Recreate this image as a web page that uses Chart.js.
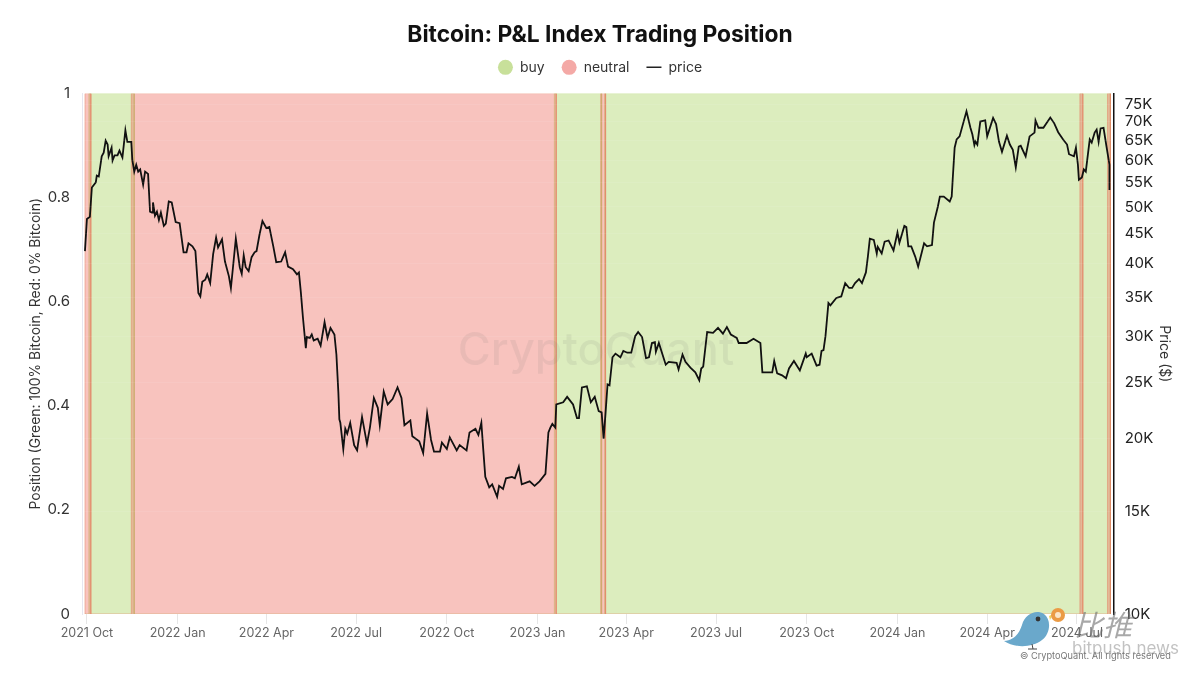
<!DOCTYPE html>
<html>
<head>
<meta charset="utf-8">
<title>Bitcoin: P&amp;L Index Trading Position</title>
<script src="https://cdn.jsdelivr.net/npm/chart.js@4/dist/chart.umd.min.js"></script>
<style>
    html, body { margin: 0; padding: 0; background: #fff; }
    #wrap { position: relative; width: 1200px; height: 675px; overflow: hidden; }
    #chart { display: block; }
    .mark { position: absolute; white-space: nowrap; pointer-events: none; font-family: Inter, sans-serif; }
    #bird { position: absolute; left: 0; top: 0; pointer-events: none; }
</style>
</head>
<body>
<div id="wrap">
    <canvas id="chart" width="1200" height="675"></canvas>
    <svg id="bird" width="1200" height="675">
        <path d="M1004 641 C1014 640 1019 634 1022 625 C1025 614 1036 609 1044 614 C1052 620 1050 634 1042 640 C1032 648 1014 648 1004 641 Z" fill="#6aa8cb"/>
        <circle cx="1038" cy="619" r="2.4" fill="#333"/>
        <path d="M1049 616 L1053 614 L1050 620 Z" fill="#f1d35c"/>
        <circle cx="1058" cy="615" r="7" fill="#eb9b45"/>
        <circle cx="1058" cy="615" r="3" fill="#fbe6c8"/>
        <path d="M1032 644 L1033 649 M1028 649 L1037 649" stroke="#444" stroke-width="1" fill="none"/>
    </svg>
    <div class="mark" style="left:1020px; top:650px; font-size:9.2px; color:#777;">© CryptoQuant. All rights reserved</div>
    <div class="mark" style="left:1074px; top:602px; font-size:29px; font-style:italic; font-family:'Noto Sans CJK SC'; color:rgba(110,110,110,0.6);">比推</div>
    <div class="mark" style="left:1072px; top:638px; font-size:17px; color:rgba(120,120,120,0.45);">bitpush.news</div>
</div>
<script>
'use strict';

// days counted from 2021-10-01
const tickDays   = [0, 92, 182, 273, 365, 457, 547, 638, 730, 822, 913, 1004];
const tickLabels = ['2021 Oct', '2022 Jan', '2022 Apr', '2022 Jul', '2022 Oct', '2023 Jan',
                    '2023 Apr', '2023 Jul', '2023 Oct', '2024 Jan', '2024 Apr', '2024 Jul'];

const positionTicks = [0, 0.2, 0.4, 0.6, 0.8, 1];
const priceTicks    = [10, 15, 20, 25, 30, 35, 40, 45, 50, 55, 60, 65, 70, 75];

const buyDays   = [-2, 2, 2, 48, 48, 474, 474, 522, 522, 525, 525, 1038, 1038];
const buyValues = [0, 0, 1, 1, 0, 0, 1, 1, 0, 0, 1, 1, 0];

const neutralDays   = [-2, -2, 4, 4, 45, 45, 476, 476, 521, 521, 526, 526, 1007, 1007, 1010, 1010, 1035, 1035, 1038, 1038];
const neutralValues = [0, 1, 1, 0, 0, 1, 1, 0, 0, 1, 1, 0, 0, 1, 1, 0, 0, 1, 1, 0];

const priceDays = [
    -2, 0, 3, 5, 9, 10, 12, 15, 17, 19, 21, 22, 25, 26, 28, 31, 33, 36, 39, 41,
    45, 46, 48, 50, 52, 54, 57, 59, 62, 64, 66, 67, 69, 71, 73, 75, 78, 80, 83, 86,
    90, 94, 98, 101, 103, 107, 110, 113, 115, 117, 120, 122, 125, 128, 131, 133, 137, 140, 144, 146,
    148, 151, 155, 157, 159, 161, 164, 167, 170, 172, 175, 178, 182, 185, 189, 192, 197, 201, 204, 209,
    213, 215, 217, 219, 222, 223, 226, 228, 230, 234, 237, 241, 244, 247, 251, 253, 255, 256, 257, 260,
    262, 264, 267, 271, 274, 279, 284, 287, 291, 295, 297, 301, 305, 310, 315, 319, 322, 328, 330, 337,
    341, 345, 349, 352, 358, 360, 365, 368, 375, 378, 385, 388, 394, 397, 400, 402, 404, 408, 411, 416,
    418, 422, 425, 431, 434, 438, 441, 449, 454, 459, 465, 468, 470, 472, 475, 476, 483, 487, 493, 497,
    499, 502, 507, 511, 515, 519, 522, 524, 526, 528, 530, 533, 536, 541, 544, 548, 552, 556, 559, 563,
    567, 570, 573, 576, 577, 580, 587, 590, 598, 600, 604, 607, 612, 617, 621, 623, 625, 629, 635, 640,
    645, 649, 653, 659, 661, 669, 676, 683, 685, 689, 695, 697, 700, 705, 709, 712, 717, 723, 729, 730,
    735, 740, 743, 745, 747, 749, 752, 754, 760, 765, 769, 773, 776, 779, 783, 786, 790, 792, 794, 798,
    801, 802, 806, 809, 813, 818, 822, 824, 829, 831, 833, 836, 840, 843, 847, 849, 852, 857, 859, 863,
    865, 869, 875, 877, 878, 880, 882, 885, 892, 896, 898, 900, 901, 903, 906, 911, 913, 919, 922, 925,
    928, 933, 936, 939, 942, 945, 947, 952, 956, 961, 962, 965, 970, 977, 981, 985, 990, 994, 996, 1001,
    1003, 1005, 1006, 1009, 1011, 1013, 1017, 1019, 1022, 1024, 1026, 1028, 1031, 1034, 1037, 1037
];
// price in thousand dollars
const priceValues = [
    42.0, 47.7, 48.1, 54.0, 55.1, 56.6, 56.4, 61.1, 62.0, 65.0, 64.0, 61.1, 63.2, 60.1, 61.3, 61.3, 62.5, 60.8, 67.7, 64.7,
    64.7, 60.3, 57.5, 59.1, 57.5, 58.0, 54.6, 57.5, 57.0, 49.1, 48.9, 50.9, 48.3, 49.1, 47.5, 48.9, 46.4, 46.8, 51.1, 50.9,
    47.1, 46.9, 41.8, 41.8, 43.3, 42.8, 42.0, 35.6, 35.1, 37.2, 37.5, 38.3, 37.0, 41.5, 44.3, 42.6, 44.0, 40.3, 38.0, 36.3,
    39.2, 44.1, 39.4, 38.4, 41.3, 39.4, 38.8, 41.0, 41.8, 42.0, 44.8, 47.3, 46.0, 46.2, 42.8, 40.2, 40.3, 41.8, 39.5, 39.1,
    38.3, 38.6, 35.6, 32.4, 28.6, 29.9, 29.8, 30.2, 29.5, 29.7, 28.9, 31.7, 29.8, 31.0, 30.2, 27.9, 24.0, 21.6, 21.3, 19.2,
    20.8, 20.4, 21.3, 19.5, 19.1, 21.8, 19.6, 20.9, 23.5, 22.6, 21.1, 24.1, 22.9, 23.4, 24.5, 23.5, 21.1, 21.5, 20.2, 19.8,
    18.9, 22.1, 19.9, 19.0, 19.0, 19.7, 19.2, 20.1, 19.1, 19.5, 19.1, 20.5, 20.8, 20.3, 21.3, 19.1, 17.2, 16.5, 16.7, 15.9,
    16.6, 16.4, 17.1, 17.2, 17.1, 17.9, 16.7, 16.9, 16.6, 16.9, 17.4, 20.5, 20.9, 21.2, 20.9, 22.9, 23.1, 23.6, 22.9, 21.7,
    21.7, 24.5, 24.6, 23.1, 23.6, 22.3, 22.2, 20.0, 22.2, 24.8, 24.7, 27.6, 28.0, 27.6, 28.3, 28.1, 28.1, 30.0, 30.5, 29.9,
    27.5, 27.6, 29.2, 29.3, 28.2, 29.2, 26.8, 27.1, 27.0, 26.3, 27.9, 27.1, 26.5, 26.0, 25.2, 26.4, 26.6, 30.5, 30.4, 31.0,
    30.3, 31.1, 30.2, 29.8, 29.2, 29.2, 29.7, 29.2, 26.0, 26.0, 26.0, 27.2, 25.9, 25.7, 25.4, 26.4, 27.2, 26.2, 28.0, 27.6,
    28.0, 26.7, 26.8, 28.3, 28.4, 30.0, 34.2, 33.9, 34.9, 35.1, 37.0, 36.3, 36.3, 37.0, 37.6, 37.0, 38.6, 41.1, 44.1, 43.9,
    41.6, 42.7, 41.6, 43.6, 43.8, 42.1, 45.2, 43.4, 46.4, 46.2, 42.8, 42.8, 41.1, 39.5, 42.0, 43.3, 42.8, 43.0, 47.0, 50.1,
    52.1, 52.1, 51.1, 52.1, 55.7, 63.2, 65.3, 66.1, 73.0, 68.4, 66.6, 63.9, 64.8, 64.0, 70.1, 70.4, 66.1, 71.1, 69.4, 64.7,
    62.2, 66.3, 64.0, 62.7, 58.5, 63.5, 63.7, 61.1, 66.1, 67.1, 70.4, 68.4, 68.4, 71.2, 69.6, 67.2, 65.3, 64.0, 61.6, 61.1,
    63.2, 59.1, 55.7, 56.2, 58.0, 57.5, 65.3, 64.5, 67.1, 67.9, 64.7, 68.2, 68.4, 63.5, 59.1, 53.5
];

function toPoints(xs, ys) {
    return xs.map(function(x, i) { return {x: x, y: ys[i]}; });
}

// the grey name sits on the bands but under the price line
const watermark = {
    id: 'watermark',
    beforeDatasetDraw(chart, args) {
        if (args.index !== 2) return;
        const ctx = chart.ctx;
        ctx.save();
        ctx.font = '500 45px Inter';
        ctx.fillStyle = 'rgba(110,110,110,0.10)';
        ctx.textAlign = 'center';
        ctx.textBaseline = 'middle';
        ctx.fillText('CryptoQuant', 596, 351);
        ctx.restore();
    }
};

// keeps the gap between legend and plot
const legendGap = {
    id: 'legendGap',
    beforeInit(chart) {
        const fit = chart.legend.fit;
        chart.legend.fit = function() {
            fit.call(this);
            this.height += 9.2;
        };
    }
};

new Chart(document.getElementById('chart'), {
    type: 'line',
    data: {
        datasets: [
            {
                label: 'buy',
                data: toPoints(buyDays, buyValues),
                yAxisID: 'y',
                order: 3,
                fill: 'origin',
                backgroundColor: 'rgba(172,212,100,0.42)',
                borderColor: 'rgba(172,212,100,0.5)',
                borderWidth: 1,
                pointRadius: 0,
                pointStyle: 'circle',
                tension: 0
            },
            {
                label: 'neutral',
                data: toPoints(neutralDays, neutralValues),
                yAxisID: 'y',
                order: 2,
                fill: 'origin',
                backgroundColor: 'rgba(238,112,100,0.42)',
                borderColor: 'rgba(230,130,100,0.5)',
                borderWidth: 1,
                pointRadius: 0,
                pointStyle: 'circle',
                tension: 0
            },
            {
                label: 'price',
                data: toPoints(priceDays, priceValues),
                yAxisID: 'yPrice',
                order: 1,
                fill: false,
                borderColor: '#111',
                borderWidth: 1.8,
                pointRadius: 0,
                pointStyle: 'line',
                tension: 0
            }
        ]
    },
    plugins: [legendGap, watermark],
    options: {
        responsive: false,
        animation: false,
        layout: {padding: 0},
        plugins: {
            tooltip: {enabled: false},
            title: {
                display: true,
                text: 'Bitcoin: P&L Index Trading Position',
                color: '#111',
                font: {family: 'Inter', size: 22.8, weight: 'bold'},
                padding: {top: 21, bottom: -5}
            },
            legend: {
                display: true,
                onClick: null,
                labels: {
                    color: '#333',
                    font: {family: 'Inter', size: 14},
                    usePointStyle: true,
                    boxHeight: 10.6,
                    pointStyleWidth: 15,
                    padding: 17,
                    sort(a, b) { return a.datasetIndex - b.datasetIndex; },
                    generateLabels(chart) {
                        const items = Chart.defaults.plugins.legend.labels.generateLabels(chart);
                        const dots = ['#c8e09a', '#f4a9a6'];
                        items.forEach(function(item) {
                            if (item.datasetIndex < 2) {
                                item.fillStyle = dots[item.datasetIndex];
                                item.strokeStyle = dots[item.datasetIndex];
                                item.lineWidth = 0;
                            } else {
                                item.strokeStyle = '#222';
                                item.lineWidth = 1.5;
                            }
                        });
                        return items;
                    }
                }
            }
        },
        scales: {
            x: {
                type: 'linear',
                min: -5,
                max: 1041.3,
                afterBuildTicks(axis) {
                    axis.ticks = tickDays.map(function(d) { return {value: d}; });
                },
                afterFit(axis) { axis.height = 61; },
                ticks: {
                    autoSkip: false,
                    maxRotation: 0,
                    color: '#666',
                    padding: 2,
                    font: {family: 'Inter', size: 12.5},
                    callback(value) { return tickLabels[tickDays.indexOf(value)]; }
                },
                grid: {drawOnChartArea: false, tickLength: 10, color: '#e6e6e6'},
                border: {display: false}
            },
            y: {
                type: 'linear',
                position: 'left',
                min: 0,
                max: 1,
                afterBuildTicks(axis) {
                    axis.ticks = positionTicks.map(function(v) { return {value: v}; });
                },
                afterFit(axis) { axis.width = 82; },
                title: {
                    display: true,
                    text: 'Position (Green: 100% Bitcoin, Red: 0% Bitcoin)',
                    color: '#333',
                    font: {family: 'Inter', size: 13.9},
                    padding: {top: 27.6, bottom: 0}
                },
                ticks: {
                    color: '#333',
                    padding: 12,
                    font: {family: 'Inter', size: 15},
                    callback(value) { return String(value); }
                },
                grid: {color: 'transparent', drawTicks: false},
                border: {display: true, color: '#e6e6f0', width: 1}
            },
            yPrice: {
                type: 'logarithmic',
                position: 'right',
                min: 10,
                max: 78.3,
                afterBuildTicks(axis) {
                    axis.ticks = priceTicks.map(function(v) { return {value: v}; });
                },
                afterFit(axis) { axis.width = 86.3; },
                title: {
                    display: true,
                    text: 'Price ($)',
                    color: '#333',
                    font: {family: 'Inter', size: 14},
                    padding: {top: 27.6, bottom: 0}
                },
                ticks: {
                    autoSkip: false,
                    color: '#222',
                    padding: 11,
                    font: {family: 'Inter', size: 15},
                    callback(value) { return value + 'K'; }
                },
                grid: {color: 'rgba(255,255,255,0.07)', drawTicks: false, z: 1},
                border: {display: true, color: '#111', width: 1.5, z: 2}
            }
        }
    }
});
</script>
</body>
</html>
